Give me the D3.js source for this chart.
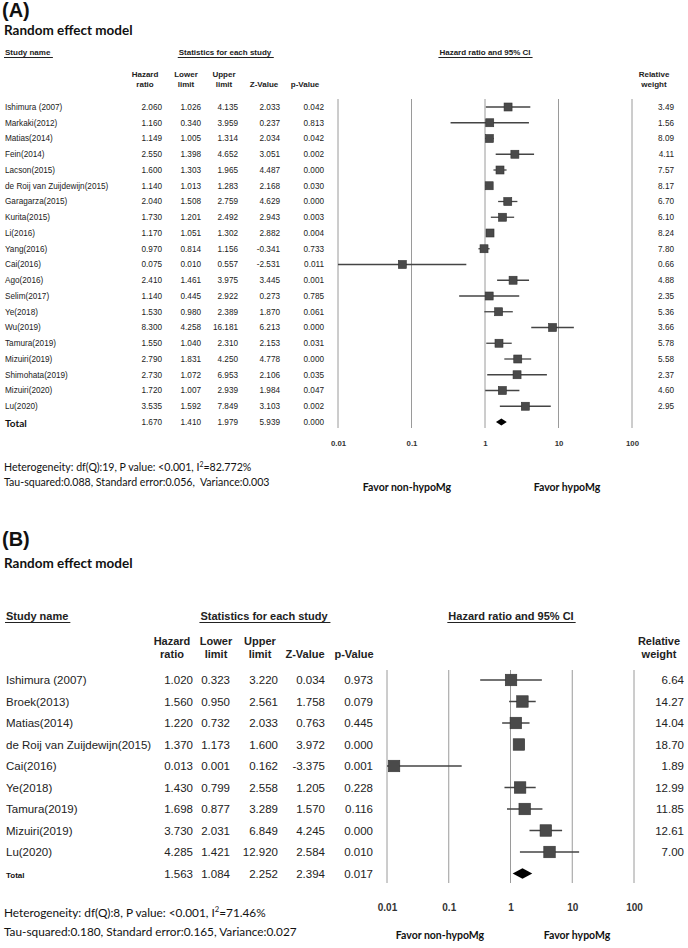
<!DOCTYPE html>
<html><head><meta charset="utf-8">
<script src="https://cdn.jsdelivr.net/npm/d3@7"></script>
<style>body{margin:0;background:#fff}svg{display:block}text{white-space:pre}</style>
</head><body>
<svg id="c" width="688" height="948"></svg>
<script>
// ---------- Panel A data ----------
const studiesA = ["Ishimura (2007)","Markaki(2012)","Matias(2014)","Fein(2014)","Lacson(2015)","de Roij van Zuijdewijn(2015)","Garagarza(2015)","Kurita(2015)","Li(2016)","Yang(2016)","Cai(2016)","Ago(2016)","Selim(2017)","Ye(2018)","Wu(2019)","Tamura(2019)","Mizuiri(2019)","Shimohata(2019)","Mizuiri(2020)","Lu(2020)"];
const hrA    = [2.060,1.160,1.149,2.550,1.600,1.140,2.040,1.730,1.170,0.970,0.075,2.410,1.140,1.530,8.300,1.550,2.790,2.730,1.720,3.535];
const lowerA = [1.026,0.340,1.005,1.398,1.303,1.013,1.508,1.201,1.051,0.814,0.010,1.461,0.445,0.980,4.258,1.040,1.831,1.072,1.007,1.592];
const upperA = [4.135,3.959,1.314,4.652,1.965,1.283,2.759,2.492,1.302,1.156,0.557,3.975,2.922,2.389,16.181,2.310,4.250,6.953,2.939,7.849];
const zA     = [2.033,0.237,2.034,3.051,4.487,2.168,4.629,2.943,2.882,-0.341,-2.531,3.445,0.273,1.870,6.213,2.153,4.778,2.106,1.984,3.103];
const pA     = [0.042,0.813,0.042,0.002,0.000,0.030,0.000,0.003,0.004,0.733,0.011,0.001,0.785,0.061,0.000,0.031,0.000,0.035,0.047,0.002];
const weightA= [3.49,1.56,8.09,4.11,7.57,8.17,6.70,6.10,8.24,7.80,0.66,4.88,2.35,5.36,3.66,5.78,5.58,2.37,4.60,2.95];
const totalA = {hr:1.670, lower:1.410, upper:1.979, z:5.939, p:0.000};
const hetA = ["Heterogeneity: df(Q):19, P value: <0.001, I","2","=82.772%"];
const tauA = "Tau-squared:0.088, Standard error:0.056,  Variance:0.003";

// ---------- Panel B data ----------
const studiesB = ["Ishimura (2007)","Broek(2013)","Matias(2014)","de Roij van Zuijdewijn(2015)","Cai(2016)","Ye(2018)","Tamura(2019)","Mizuiri(2019)","Lu(2020)"];
const hrB    = [1.020,1.560,1.220,1.370,0.013,1.430,1.698,3.730,4.285];
const lowerB = [0.323,0.950,0.732,1.173,0.001,0.799,0.877,2.031,1.421];
const upperB = [3.220,2.561,2.033,1.600,0.162,2.558,3.289,6.849,12.920];
const zB     = [0.034,1.758,0.763,3.972,-3.375,1.205,1.570,4.245,2.584];
const pB     = [0.973,0.079,0.445,0.000,0.001,0.228,0.116,0.000,0.010];
const weightB= [6.64,14.27,14.04,18.70,1.89,12.99,11.85,12.61,7.00];
const totalB = {hr:1.563, lower:1.084, upper:2.252, z:2.394, p:0.017};
const hetB = ["Heterogeneity: df(Q):8, P value: <0.001, I","2","=71.46%"];
const tauB = "Tau-squared:0.180, Standard error:0.165, Variance:0.027";

const tickValues = [0.01, 0.1, 1, 10, 100];
const tickLabels = ["0.01","0.1","1","10","100"];
const colHeads = [["Hazard","ratio"],["Lower","limit"],["Upper","limit"],["Z-Value",""],["p-Value",""]];

const svg = d3.select("#c");
const ARIAL = "'Liberation Sans', Arial, sans-serif";
const CAL = "Lato, 'Open Sans', sans-serif";
const loc = d3.formatLocale({decimal: ".", thousands: ",", grouping: [3], currency: ["", ""], minus: "-"});
const f3 = loc.format(".3f"), f2 = loc.format(".2f");

function panel(o, d) {
  const g = svg.append("g");
  const T = (x, y, s, opt={}) => g.append("text").attr("x", x).attr("y", y)
      .attr("font-family", opt.ff || ARIAL).attr("font-size", opt.fs || o.fs)
      .attr("font-weight", opt.fw || "normal").attr("text-anchor", opt.anchor || "start")
      .attr("fill", opt.fill || "#222").text(s);

  T(o.labelX, o.labelY, o.label, {fs: 20, fw: "bold", fill: "#111"});
  T(4, o.titleY, "Random effect model", {ff: CAL, fs: 13.5, fw: "bold", fill: "#111"});

  // group headers (underlined)
  const underline = (t) => {
    const b = t.node().getBBox();
    g.append("line").attr("x1", b.x - 1).attr("x2", b.x + b.width + 2)
      .attr("y1", o.headY + 2.5).attr("y2", o.headY + 2.5).attr("stroke", "#222").attr("stroke-width", 1);
  };
  underline(T(o.nameX, o.headY, "Study name", {fs: o.hfs, fw: "bold"}));
  underline(T(o.statsCx, o.headY, "Statistics for each study", {fs: o.hfs, fw: "bold", anchor: "middle"}));
  underline(T(o.ciCx, o.headY, "Hazard ratio and 95% CI", {fs: o.hfs, fw: "bold", anchor: "middle"}));

  colHeads.forEach((h, i) => {
    const single = h[1] === "";
    T(o.headCx[i], single ? o.colY2 : o.colY1, h[0], {fs: o.hfs, fw: "bold", anchor: "middle"});
    if (!single) T(o.headCx[i], o.colY2, h[1], {fs: o.hfs, fw: "bold", anchor: "middle"});
  });
  T(o.wCx, o.colY1, "Relative", {fs: o.hfs, fw: "bold", anchor: "middle"});
  T(o.wCx, o.colY2, "weight", {fs: o.hfs, fw: "bold", anchor: "middle"});

  const n = d.studies.length;
  const y = d3.scaleLinear().domain([0, n]).range([o.row0, o.row0 + n * o.rowH]);
  const x = d3.scaleLog().domain([0.01, 100]).range([o.x0, o.x1]);

  // grid lines
  g.append("g").selectAll("line").data(tickValues).join("line")
    .attr("x1", v => x(v)).attr("x2", v => x(v))
    .attr("y1", o.gridTop).attr("y2", o.gridBot)
    .attr("stroke", "#9a9a9a").attr("stroke-width", 1);

  // axis labels
  const ax = d3.axisBottom(x).tickValues(tickValues).tickFormat((v, i) => tickLabels[i]).tickSize(0).tickPadding(0);
  const axg = g.append("g").attr("transform", `translate(0,${o.tickY})`).call(ax);
  axg.select(".domain").remove();
  axg.selectAll("text").attr("font-family", ARIAL).attr("font-size", o.tfs)
    .attr("font-weight", "bold").attr("fill", "#333").attr("dy", "0");

  // rows
  const cols = [d.hr, d.lower, d.upper, d.z, d.p];
  d.studies.forEach((s, i) => {
    const cy = y(i);
    T(o.nameX, cy + o.dy, s);
    cols.forEach((c, j) => T(o.colX[j], cy + o.dy, f3(c[i]), {anchor: "end"}));
    T(o.wX, cy + o.dy, f2(d.weight[i]), {anchor: "end"});
  });

  // CI lines
  g.append("g").selectAll("line").data(d.studies).join("line")
    .attr("x1", (s, i) => x(Math.max(d.lower[i], 0.01))).attr("x2", (s, i) => x(d.upper[i]))
    .attr("y1", (s, i) => y(i)).attr("y2", (s, i) => y(i))
    .attr("stroke", "#444").attr("stroke-width", o.ciW);
  // squares
  g.append("g").selectAll("rect").data(d.studies).join("rect")
    .attr("x", (s, i) => x(d.hr[i]) - o.sq / 2).attr("y", (s, i) => y(i) - o.sq / 2)
    .attr("width", o.sq).attr("height", o.sq)
    .attr("fill", "#4a4a4a").attr("stroke", "#333").attr("stroke-width", 0.6);

  // total
  const ty = y(n);
  T(o.nameX, ty + o.totalDy, "Total", o.totalStyle);
  const tv = [d.total.hr, d.total.lower, d.total.upper, d.total.z, d.total.p];
  tv.forEach((v, j) => T(o.colX[j], ty + o.dy, f3(v), {anchor: "end"}));
  const dx = x(d.total.hr);
  g.append("path").attr("d", d3.line()([
      [x(d.total.lower), ty], [dx, ty - o.dh], [x(d.total.upper), ty], [dx, ty + o.dh]
    ]) + "Z").attr("fill", "#000");

  // favor labels
  T(o.favL, o.favY, "Favor non-hypoMg", {ff: CAL, fs: o.ffs, fw: "bold", anchor: "middle", fill: "#111"});
  T(o.favR, o.favY, "Favor hypoMg", {ff: CAL, fs: o.ffs, fw: "bold", anchor: "middle", fill: "#111"});

  // heterogeneity
  const h = g.append("text").attr("x", 4).attr("y", o.hetY).attr("font-family", CAL)
    .attr("font-size", o.hetFs).attr("fill", "#111");
  h.append("tspan").text(d.het[0]);
  h.append("tspan").attr("dy", -o.hetFs * 0.4).attr("font-size", o.hetFs * 0.65).text(d.het[1]);
  h.append("tspan").attr("dy", o.hetFs * 0.4).text(d.het[2]);
  T(4, o.hetY + o.hetGap, d.tau, {ff: CAL, fs: o.hetFs, fill: "#111"});
}

panel({
  label: "(A)", labelX: 2, labelY: 17, titleY: 35,
  fs: 8.2, hfs: 8, headY: 55, colY1: 77, colY2: 87,
  nameX: 5, statsCx: 225, ciCx: 485,
  headCx: [145, 186, 224, 264, 305], colX: [162, 201, 238, 280, 324],
  wCx: 654, wX: 674,
  row0: 107, rowH: 15.75, dy: 2.9,
  x0: 338, x1: 632, gridTop: 99, gridBot: 428, tickY: 446, tfs: 7.8,
  sq: 8, ciW: 1.3, dh: 3.6,
  totalDy: 5, totalStyle: {ff: CAL, fs: 10, fw: "bold", fill: "#111"},
  favL: 407, favR: 567, favY: 491, ffs: 10.5,
  hetY: 471, hetGap: 15, hetFs: 10.6
}, {studies: studiesA, hr: hrA, lower: lowerA, upper: upperA, z: zA, p: pA, weight: weightA, total: totalA, het: hetA, tau: tauA});

panel({
  label: "(B)", labelX: 2, labelY: 546, titleY: 568,
  fs: 11.5, hfs: 11, headY: 620, colY1: 645, colY2: 658,
  nameX: 6, statsCx: 264, ciCx: 511,
  headCx: [172, 216, 260, 305, 354], colX: [193, 230, 278, 325, 373],
  wCx: 659, wX: 684,
  row0: 680, rowH: 21.5, dy: 4,
  x0: 387, x1: 634, gridTop: 670, gridBot: 883, tickY: 911, tfs: 10,
  sq: 11.5, ciW: 1.5, dh: 5.3,
  totalDy: 4, totalStyle: {fs: 8, fw: "bold", fill: "#111"},
  favL: 440, favR: 577, favY: 939, ffs: 10.5,
  hetY: 917, hetGap: 19, hetFs: 11.8
}, {studies: studiesB, hr: hrB, lower: lowerB, upper: upperB, z: zB, p: pB, weight: weightB, total: totalB, het: hetB, tau: tauB});
</script>
</body></html>
